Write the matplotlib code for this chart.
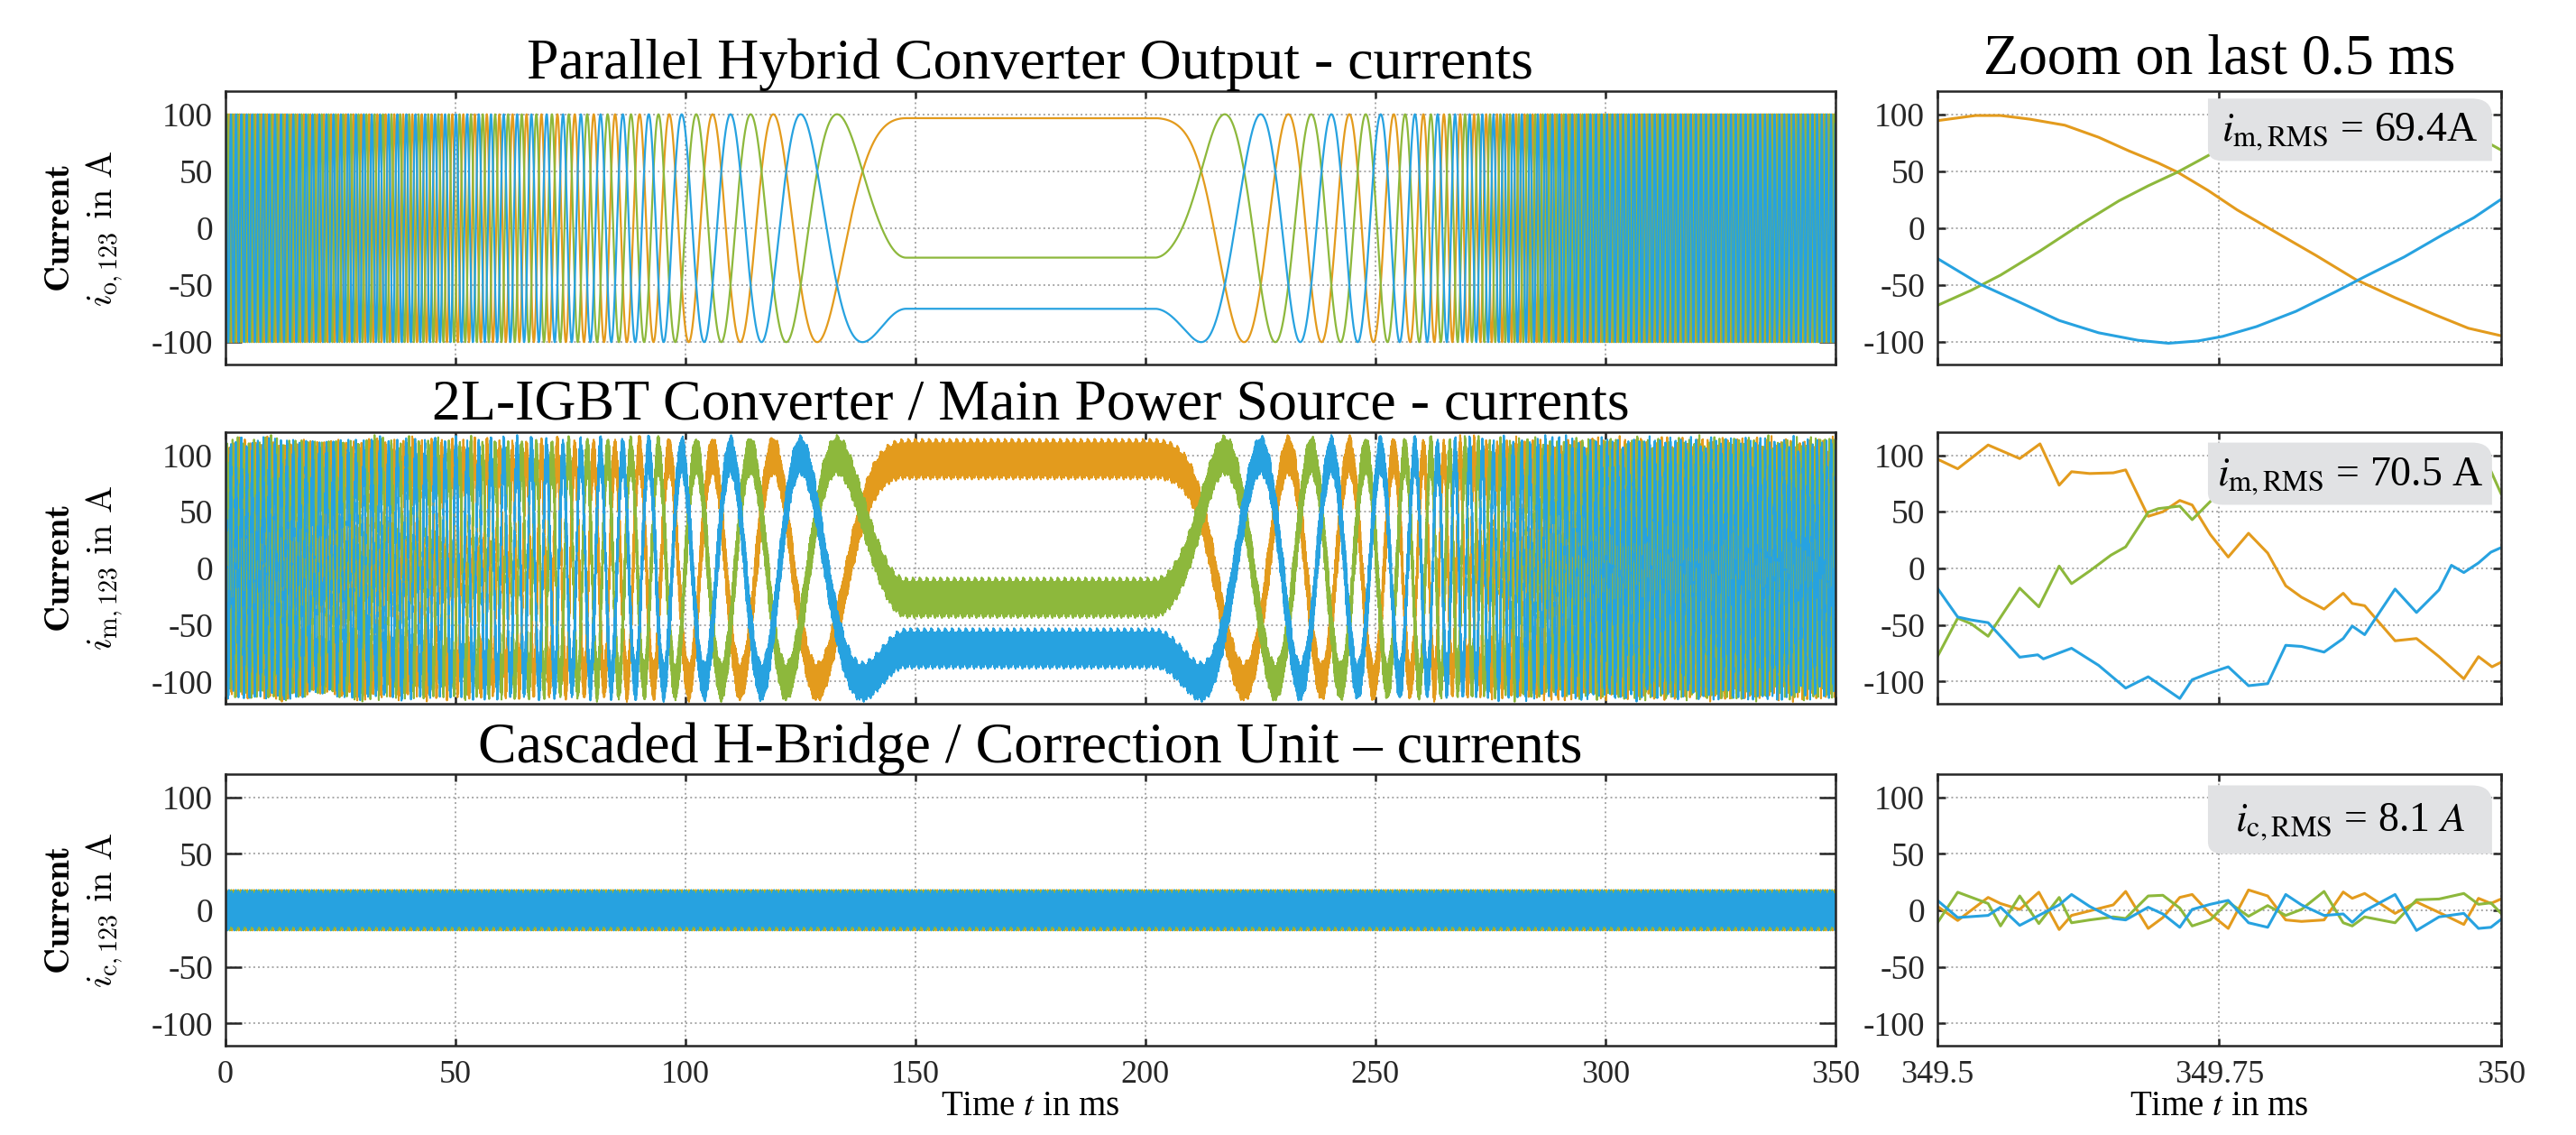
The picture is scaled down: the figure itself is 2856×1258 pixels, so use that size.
import numpy as np
import matplotlib.pyplot as plt
from matplotlib.path import Path
from matplotlib.patches import PathPatch

plt.rcParams['font.family'] = ['Liberation Serif', 'DejaVu Serif']
plt.rcParams['axes.unicode_minus'] = False

ORANGE = '#E39B1D'
GREEN = '#8DB83C'
BLUE = '#27A2E0'
AX_COLOR = '#262626'
BOX_COLOR = '#E1E2E4'

# --- long run (0..350 ms): instantaneous frequency read from the peak spacing ---
# positive = forward rotation, negative = reversed after the standstill
FREQ_T_MS = [0, 25, 50, 70, 85, 93, 95, 97.5, 100.6, 104, 108, 112, 116.6, 122, 129, 138, 144, 148,
             202, 208, 214, 221, 228, 234, 240, 246, 250, 254, 258, 262, 270, 285, 300, 350]
FREQ_HZ = [900, 620, 420, 290, 200, 158, 145, 125, 105, 94, 85, 76, 68, 56, 42, 26, 12, 0,
           0, -14, -32, -42, -55, -68, -80, -93, -103, -125, -160, -215, -330, -600, -850, -1000]
PEAK_A = 100
HOLD_ANGLE_DEG = -15   # angle held while the frequency is zero
HOLD_START_MS = 148

# --- zoom on the last 0.5 ms, values read from the right column ---
# output currents i_o
ZO_T_OR = [349.500, 349.534, 349.556, 349.582, 349.613, 349.643, 349.670, 349.696, 349.713,
           349.740, 349.766, 349.801, 349.836, 349.871, 349.906, 349.941, 349.971, 350.000]
ZO_OR = [94.4, 98.9, 98.9, 95.7, 90.4, 79.8, 67.8, 57.2, 49.2, 33.2, 16.0, -4.0, -24.0, -45.0,
         -61.0, -75.8, -87.8, -94.4]
ZO_T_GR = [349.500, 349.530, 349.556, 349.591, 349.626, 349.661, 349.687, 349.713, 349.750,
           349.785, 349.820, 349.850, 349.880, 349.910, 349.940, 349.970, 349.992, 350.000]
ZO_GR = [-67.8, -54.5, -41.2, -20.0, 2.7, 24.0, 37.2, 49.2, 69.0, 83, 93, 98, 100, 98, 92, 82,
         73, 68.6]
ZO_T_BL = [349.500, 349.538, 349.573, 349.608, 349.643, 349.678, 349.705, 349.731, 349.753,
           349.783, 349.818, 349.853, 349.879, 349.914, 349.949, 349.976, 350.000]
ZO_BL = [-26.6, -49.2, -65.0, -81.0, -91.8, -98.4, -101.0, -99.0, -95.0, -86.4, -73.0, -55.9,
         -42.6, -25.3, -5.3, 9.3, 25.3]

# main converter currents i_m
ZM_T_OR = [349.500, 349.518, 349.545, 349.573, 349.591, 349.608, 349.619, 349.635, 349.656,
           349.667, 349.687, 349.700, 349.715, 349.726, 349.742, 349.758, 349.776, 349.793,
           349.809, 349.823, 349.843, 349.860, 349.868, 349.879, 349.906, 349.925, 349.945,
           349.967, 349.980, 349.992, 350.000]
ZM_OR = [96.5, 88, 109, 97, 110, 73.5, 85.4, 83.8, 84.4, 87, 46, 50, 60, 56, 30, 10, 31, 13.5,
         -15.4, -25.5, -36, -22, -31, -33, -64, -62, -78, -97.6, -78, -87, -83]
ZM_T_GR = [349.500, 349.518, 349.530, 349.545, 349.573, 349.590, 349.608, 349.619, 349.635,
           349.654, 349.667, 349.687, 349.696, 349.715, 349.726, 349.750, 349.775, 349.800,
           349.830, 349.860, 349.890, 349.920, 349.950, 349.975, 349.991, 350.000]
ZM_GR = [-78, -44, -49, -60, -17.5, -34, 2, -13.5, -2.4, 11.7, 19, 49.6, 52.8, 55, 43, 67, 78,
         90, 96, 108, 99, 104, 95, 100, 86, 66]
ZM_T_BL = [349.500, 349.518, 349.530, 349.545, 349.573, 349.589, 349.594, 349.619, 349.643,
           349.667, 349.687, 349.715, 349.726, 349.740, 349.758, 349.776, 349.793, 349.809,
           349.823, 349.843, 349.860, 349.868, 349.879, 349.906, 349.925, 349.945, 349.956,
           349.967, 349.980, 349.991, 350.000]
ZM_BL = [-17.5, -43, -45.6, -48, -78.5, -76.4, -80, -70.6, -85.7, -105.8, -95.8, -115, -98.4,
         -93, -87, -103.7, -101.9, -68, -69, -74, -62, -51, -58.6, -18.3, -39, -19, 2.7, -3.7,
         4.8, 14.3, 18.3]

# correction unit currents i_c
ZC_T = [349.500, 349.518, 349.545, 349.556, 349.573, 349.590, 349.608, 349.619, 349.635,
        349.656, 349.667, 349.687, 349.700, 349.715, 349.726, 349.742, 349.758, 349.776,
        349.793, 349.809, 349.823, 349.843, 349.860, 349.868, 349.879, 349.906, 349.925,
        349.945, 349.967, 349.980, 349.991, 350.000]
ZC_OR = [3.5, -9, 11.4, 6, 0.8, 16, -17, -4.5, -0.5, 4.8, 16.7, -16, -6.4, 11.4, 14, -3.2,
         -16, 18, 12.7, -8.5, -9.8, -8.5, 16.2, 10.6, 14.9, -2.7, 7.4, -1.9, -12.5, 10.6, 6.1, 10]
ZC_GR = [-11, 16, 6, -13.8, 12.7, -11.7, 11.4, -11, -8.5, -5.8, -7.2, 12.7, 13.3, 2, -13.8,
         -8.5, 7.4, -5.3, 4.2, -4.5, 0.8, 16.7, -11, -13.8, -5.8, -11, 9.3, 10, 14.9, 5.3, 6.6,
         -2.7]
ZC_BL = [8.8, -6.4, -4.5, 2.7, -13.3, -4.5, 4.8, 14, 3.5, -7.2, -8.5, 2.7, -3.2, -15, 0.8,
         5.3, 8.8, -11, -15, 14, 4.8, -4.5, -3.2, -10.6, -0.5, 14, -17.8, -5.8, -2.7, -16, -15, -8]

TITLES = ['Parallel Hybrid Converter Output - currents',
          '2L-IGBT Converter / Main Power Source - currents',
          'Cascaded H-Bridge / Correction Unit \u2013 currents']
YLABELS = [r'$\mathbf{Current}$' + '\n' + r'$i_{\mathrm{o,}123}\ \mathrm{in\ A}$',
           r'$\mathbf{Current}$' + '\n' + r'$i_{\mathrm{m,}123}\ \mathrm{in\ A}$',
           r'$\mathbf{Current}$' + '\n' + r'$i_{\mathrm{c,}123}\ \mathrm{in\ A}$']
RMS_TEXT = [r'$i_{\mathrm{m,RMS}}$ = 69.4A',
            r'$i_{\mathrm{m,RMS}}$ = 70.5 A',
            r'$i_{\mathrm{c,RMS}}$ = 8.1 $A$']
LEFT_XTICKS = [0, 50, 100, 150, 200, 250, 300, 350]
ZOOM_XTICKS = [349.5, 349.75, 350]
ZOOM_XLABELS = ['349.5', '349.75', '350']
YTICKS = [-100, -50, 0, 50, 100]


# phase angle of the output current over the whole run
t_fine = np.arange(0, 350.0001, 0.002)
f_fine = np.interp(t_fine, FREQ_T_MS, FREQ_HZ)
cyc = np.concatenate([[0], np.cumsum(0.5 * (f_fine[1:] + f_fine[:-1]) * np.diff(t_fine))]) / 1000
cyc -= np.interp(HOLD_START_MS, t_fine, cyc)
phi = np.deg2rad(HOLD_ANGLE_DEG) + 2 * np.pi * cyc
shifts = [0, 2 * np.pi / 3, -2 * np.pi / 3]   # orange, green, blue


def out_current(t, k):
    return PEAK_A * np.cos(np.interp(t, t_fine, phi) + shifts[k])


def tile(k, n=700):
    # repeat the read 0.5 ms correction-current patterns over the whole run,
    # cycling through the three read phases so the band edges are mixed
    pats = [np.asarray(p[:-1]) for p in (ZC_OR, ZC_GR, ZC_BL)]
    t0 = np.asarray(ZC_T[:-1]) - 349.5
    tt = (t0[None, :] + 0.5 * np.arange(n)[:, None]).ravel()
    vv = np.concatenate([pats[(k + i) % 3] for i in range(n)])
    return tt, vv


def rms_box(ax, text, x0, x1, y0, y1):
    rx, ry = 0.036, 0.065
    bx, by = 0.026, 0.045
    verts = [(x0, y1), (x1 - rx, y1), (x1, y1), (x1, y1 - ry), (x1, y0), (x0 + bx, y0),
             (x0, y0), (x0, y0 + by), (x0, y1)]
    codes = [Path.MOVETO, Path.LINETO, Path.CURVE3, Path.CURVE3, Path.LINETO, Path.LINETO,
             Path.CURVE3, Path.CURVE3, Path.CLOSEPOLY]
    ax.add_patch(PathPatch(Path(verts, codes), transform=ax.transAxes, facecolor=BOX_COLOR,
                           edgecolor='none', zorder=4))
    ax.text((x0 + x1) / 2, (y0 + y1) / 2 - 0.01, text, transform=ax.transAxes, ha='center',
            va='center', fontsize=16.5, color='black', zorder=5, math_fontfamily='stix')


def style(ax, left):
    ax.set_ylim(-120, 120)
    ax.set_yticks(YTICKS)
    ax.grid(True, ls=':', lw=0.7, color='#a8a8a8')
    ax.set_axisbelow(True)
    for s in ax.spines.values():
        s.set_color(AX_COLOR)
        s.set_linewidth(0.9)
    ax.tick_params(direction='in', top=True, right=True, colors=AX_COLOR, width=0.9,
                   labelsize=13.5, labelcolor=AX_COLOR)
    ax.tick_params(axis='x', length=3, pad=5.5, labelsize=13)
    ax.tick_params(axis='y', length=6.5 if left else 3.2, pad=5)


fig = plt.figure(figsize=(14.28, 6.29), dpi=200)
rows = [(0.6785, 0.2409), (0.3796, 0.2393), (0.0783, 0.2393)]
colors = [ORANGE, GREEN, BLUE]

t_top = t_fine[::5]
tiles = [tile(k) for k in range(3)]

zoom_data = [
    [(ZO_T_OR, ZO_OR), (ZO_T_GR, ZO_GR), (ZO_T_BL, ZO_BL)],
    [(ZM_T_OR, ZM_OR), (ZM_T_GR, ZM_GR), (ZM_T_BL, ZM_BL)],
    [(ZC_T, ZC_OR), (ZC_T, ZC_GR), (ZC_T, ZC_BL)],
]
boxes = [(0.48, 0.984, 0.746, 0.974), (0.48, 0.984, 0.734, 0.963), (0.48, 0.984, 0.708, 0.960)]

for r, (bottom, height) in enumerate(rows):
    axl = fig.add_axes([0.0875, bottom, 0.625, height])
    axr = fig.add_axes([0.7521, bottom, 0.2188, height])

    for k in range(3):
        if r == 0:
            axl.plot(t_top, out_current(t_top, k), color=colors[k], lw=0.8)
        elif r == 1:
            tt, ic = tiles[k]
            axl.plot(tt, out_current(tt, k) - ic, color=colors[k], lw=0.75)
        else:
            tt, ic = tiles[k]
            axl.plot(tt, ic, color=colors[k], lw=0.75)
        zt, zv = zoom_data[r][k]
        axr.plot(zt, zv, color=colors[k], lw=1.1)

    axl.set_xlim(0, 350)
    axl.set_xticks(LEFT_XTICKS)
    axr.set_xlim(349.5, 350)
    axr.set_xticks(ZOOM_XTICKS)
    axr.set_xticklabels(ZOOM_XLABELS)
    style(axl, True)
    style(axr, False)

    axl.set_title(TITLES[r], fontsize=23, pad=5)
    axl.set_ylabel(YLABELS[r], fontsize=14.5, math_fontfamily='cm', linespacing=1.25)
    axl.yaxis.set_label_coords(-0.062, 0.5)
    rms_box(axr, RMS_TEXT[r], *boxes[r])

    if r == 0:
        axr.set_title('Zoom on last 0.5 ms', fontsize=23, pad=7)
    if r < 2:
        axl.tick_params(labelbottom=False)
        axr.tick_params(labelbottom=False)
    else:
        axl.set_xlabel(r'Time $t$ in ms', fontsize=14, labelpad=0, math_fontfamily='stix')
        axr.set_xlabel(r'Time $t$ in ms', fontsize=14, labelpad=0, math_fontfamily='stix')

fig.savefig('out.png', dpi=200)
